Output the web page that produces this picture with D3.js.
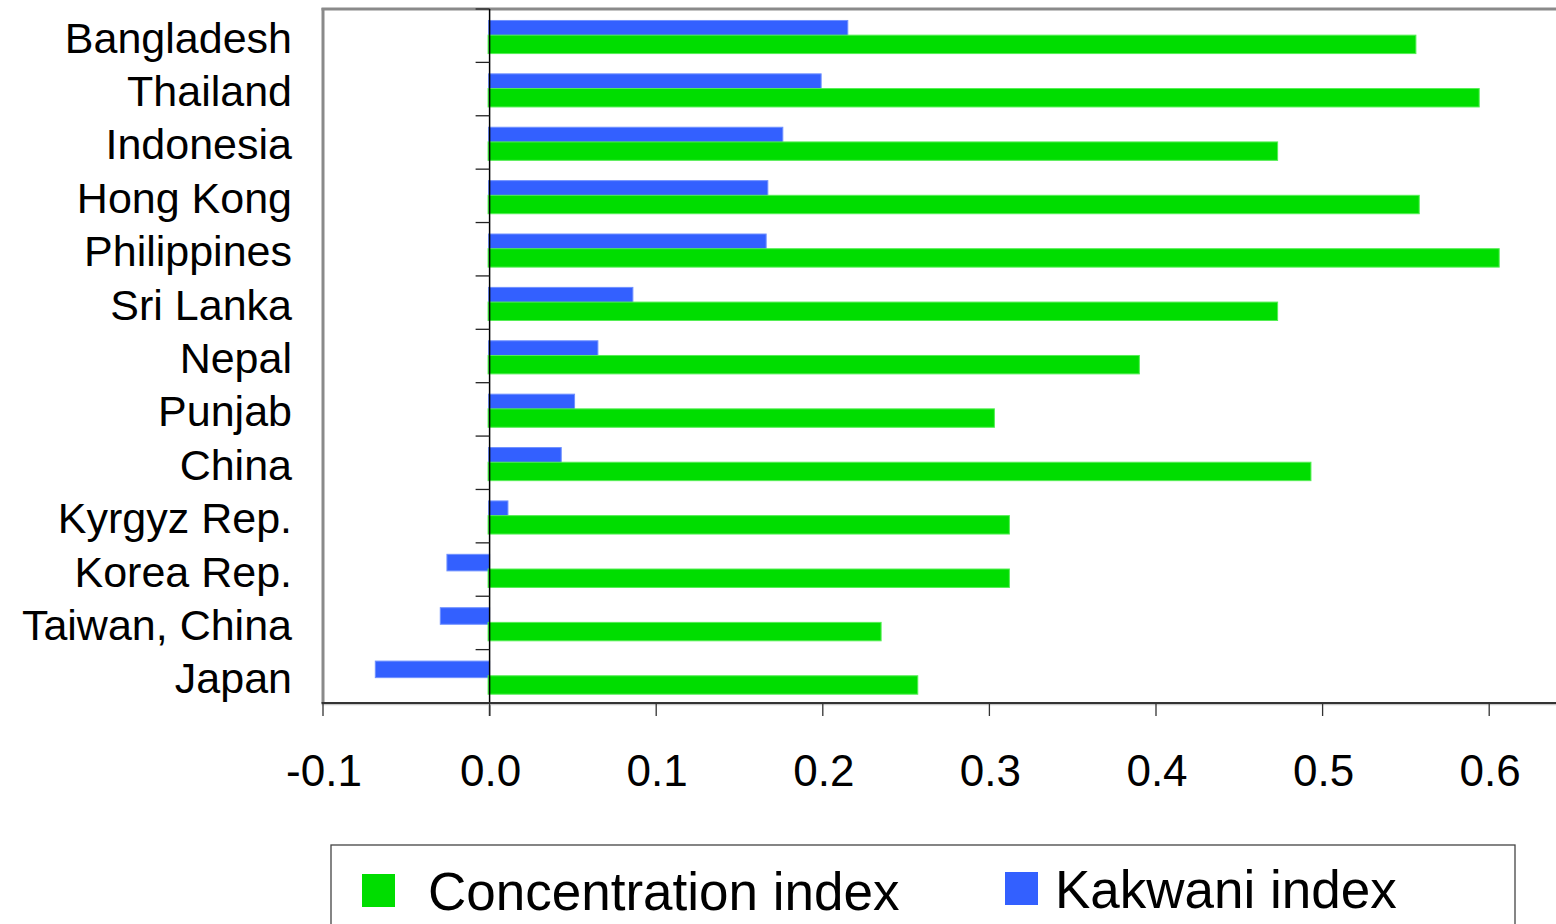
<!DOCTYPE html>
<html>
<head>
<meta charset="utf-8">
<script src="https://cdn.jsdelivr.net/npm/d3@7"></script>
<style>
  html, body { margin: 0; padding: 0; background: #fff; }
  svg { display: block; font-family: "Liberation Sans", Arial, sans-serif; }
</style>
</head>
<body>
<svg id="chart" width="1556" height="924"></svg>
<script>
// Countries, top to bottom
const countries = ["Bangladesh", "Thailand", "Indonesia", "Hong Kong", "Philippines", "Sri Lanka",
  "Nepal", "Punjab", "China", "Kyrgyz Rep.", "Korea Rep.", "Taiwan, China", "Japan"];
// Concentration index per country
const concentration = [0.556, 0.594, 0.473, 0.558, 0.606, 0.473, 0.390, 0.303, 0.493, 0.312, 0.312, 0.235, 0.257];
// Kakwani index per country
const kakwani = [0.215, 0.199, 0.176, 0.167, 0.166, 0.086, 0.065, 0.051, 0.043, 0.011, -0.025, -0.029, -0.068];
// X axis ticks
const xTicks = [-0.1, 0.0, 0.1, 0.2, 0.3, 0.4, 0.5, 0.6];
const tickLabels = ["-0.1", "0.0", "0.1", "0.2", "0.3", "0.4", "0.5", "0.6"];
const seriesNames = ["Concentration index", "Kakwani index"];

const svg = d3.select("#chart");
const W = 1556;
const plotLeft = 323, plotTop = 9, plotBottom = 703;

const x = d3.scaleLinear().domain([-0.1, 0.7]).range([plotLeft, plotLeft + 8 * 166.6]);
const y = d3.scaleBand().domain(countries).range([plotTop, plotBottom]).paddingInner(0).paddingOuter(0);
const bw = y.bandwidth();

const GREEN = "#00dd00", GREEN_EDGE = "#55ee55";
const BLUE = "#3360ff", BLUE_EDGE = "#6f90ff";

// Plot frame: left and top borders
svg.append("line").attr("x1", plotLeft).attr("x2", plotLeft).attr("y1", plotTop - 1).attr("y2", plotBottom)
  .attr("stroke", "#8a8a8a").attr("stroke-width", 3);
svg.append("line").attr("x1", plotLeft - 1.5).attr("x2", W).attr("y1", plotTop).attr("y2", plotTop)
  .attr("stroke", "#8a8a8a").attr("stroke-width", 3);

// Bars
const rows = countries.map((c, i) => ({ c, conc: concentration[i], kak: kakwani[i] }));
const g = svg.append("g");
g.selectAll("rect.kak").data(rows).join("rect").attr("class", "kak")
  .attr("x", d => Math.min(x(0), x(d.kak)) - 1)
  .attr("width", d => Math.abs(x(d.kak) - x(0)) + 1)
  .attr("y", d => y(d.c) + bw * 0.215)
  .attr("height", bw * 0.31)
  .attr("fill", BLUE).attr("stroke", BLUE_EDGE).attr("stroke-width", 1);
g.selectAll("rect.conc").data(rows).join("rect").attr("class", "conc")
  .attr("x", d => Math.min(x(0), x(d.conc)) - 1.5)
  .attr("width", d => Math.abs(x(d.conc) - x(0)) + 1.5)
  .attr("y", d => y(d.c) + bw * 0.49)
  .attr("height", bw * 0.345)
  .attr("fill", GREEN).attr("stroke", GREEN_EDGE).attr("stroke-width", 1);

// Zero line with category ticks
svg.append("line").attr("x1", x(0)).attr("x2", x(0)).attr("y1", plotTop).attr("y2", plotBottom + 13)
  .attr("stroke", "#000").attr("stroke-width", 1.5);
const bounds = countries.map(c => y(c));
svg.selectAll("line.ytick").data(bounds).join("line").attr("class", "ytick")
  .attr("x1", x(0) - 14).attr("x2", x(0)).attr("y1", d => d).attr("y2", d => d)
  .attr("stroke", "#222").attr("stroke-width", 1.3);

// Bottom axis
svg.append("line").attr("x1", plotLeft - 1.5).attr("x2", W).attr("y1", plotBottom + 1.5).attr("y2", plotBottom + 1.5)
  .attr("stroke", "#c8c8c8").attr("stroke-width", 1.5);
svg.append("line").attr("x1", plotLeft - 1.5).attr("x2", W).attr("y1", plotBottom).attr("y2", plotBottom)
  .attr("stroke", "#333").attr("stroke-width", 2);
svg.selectAll("line.xtick").data(xTicks).join("line").attr("class", "xtick")
  .attr("x1", d => x(d)).attr("x2", d => x(d)).attr("y1", plotBottom).attr("y2", plotBottom + 13)
  .attr("stroke", "#333").attr("stroke-width", 1.3);
svg.selectAll("text.xlab").data(xTicks).join("text").attr("class", "xlab")
  .attr("x", d => x(d) + 1).attr("y", 786)
  .attr("text-anchor", "middle").attr("font-size", 44).attr("fill", "#000")
  .text((d, i) => tickLabels[i]);

// Category labels
svg.selectAll("text.ylab").data(countries).join("text").attr("class", "ylab")
  .attr("x", 292).attr("y", d => y(d) + bw / 2 + 17)
  .attr("text-anchor", "end").attr("font-size", 43).attr("fill", "#000")
  .text(d => d);

// Legend
const leg = svg.append("g");
leg.append("rect").attr("x", 331).attr("y", 845).attr("width", 1184).attr("height", 100)
  .attr("fill", "#fff").attr("stroke", "#444").attr("stroke-width", 1.3);
const legItems = [
  { name: seriesNames[0], color: GREEN, sx: 362, tx: 428, sy: 874 },
  { name: seriesNames[1], color: BLUE, sx: 1005, tx: 1055, sy: 872 }
];
legItems.forEach(it => {
  leg.append("rect").attr("x", it.sx).attr("y", it.sy).attr("width", 33).attr("height", 33).attr("fill", it.color);
  leg.append("text").attr("x", it.tx).attr("y", it.sy + 36).attr("font-size", 53).attr("fill", "#000").text(it.name);
});
</script>
</body>
</html>
